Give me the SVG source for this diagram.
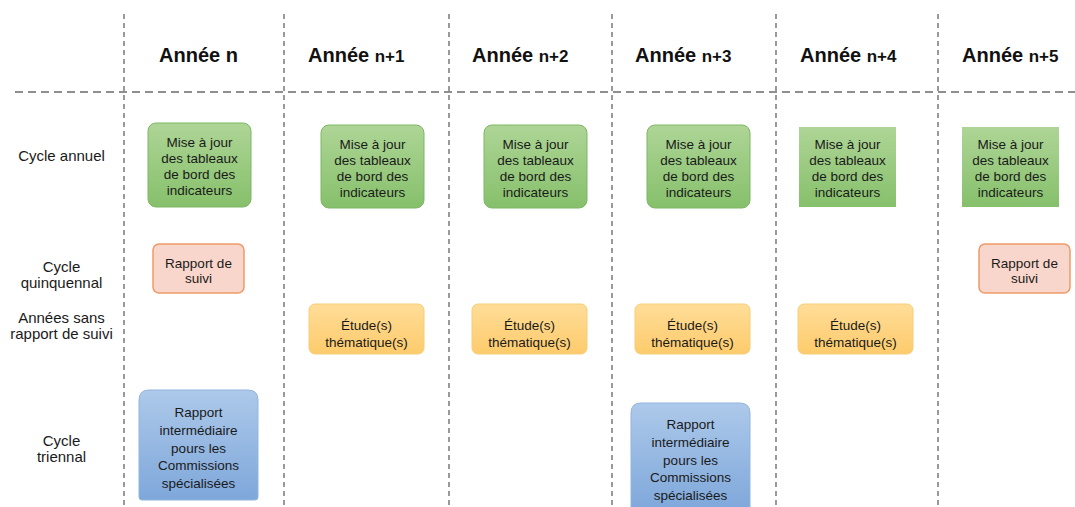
<svg xmlns="http://www.w3.org/2000/svg" width="1075" height="507" viewBox="0 0 1075 507">
<defs>
<linearGradient id="gGreen" x1="0" y1="0" x2="0" y2="1"><stop offset="0" stop-color="#AED596"/><stop offset="1" stop-color="#86C06B"/></linearGradient>
<linearGradient id="gGold" x1="0" y1="0" x2="0" y2="1"><stop offset="0" stop-color="#FFDD98"/><stop offset="1" stop-color="#FDCB6C"/></linearGradient>
<linearGradient id="gBlue" x1="0" y1="0" x2="0" y2="1"><stop offset="0" stop-color="#ADC9EA"/><stop offset="1" stop-color="#7EA7DA"/></linearGradient>
</defs>
<style>
.vline{stroke:#8f8f8f;stroke-width:1.8;stroke-dasharray:5 4;fill:none}
.hline{stroke:#8f8f8f;stroke-width:1.8;stroke-dasharray:8 5;fill:none}
.head{font-family:"Liberation Sans",Arial,sans-serif;font-weight:bold;font-size:20px;fill:#111}
.head .s{font-size:17px}
.lab{font-family:"Liberation Sans",Arial,sans-serif;font-size:15px;fill:#1a1a1a;text-anchor:middle}
.txt{font-family:"Liberation Sans",Arial,sans-serif;font-size:13.5px;fill:#1a1a1a;text-anchor:middle}
.green{fill:url(#gGreen);stroke:#7DB765;stroke-width:1}
.greensq{fill:url(#gGreen);stroke:none}
.pink{fill:#F9D6CB;stroke:#EE9A68;stroke-width:1.5}
.gold{fill:url(#gGold);stroke:#F8CD78;stroke-width:1}
.blue{fill:url(#gBlue);stroke:#93B4DE;stroke-width:1}
</style>
<rect width="1075" height="507" fill="#ffffff"/>
<g id="grid">
<line class="vline" x1="124" y1="14" x2="124" y2="507"/>
<line class="vline" x1="284" y1="14" x2="284" y2="507"/>
<line class="vline" x1="449" y1="14" x2="449" y2="507"/>
<line class="vline" x1="612" y1="14" x2="612" y2="507"/>
<line class="vline" x1="776" y1="14" x2="776" y2="507"/>
<line class="vline" x1="938" y1="14" x2="938" y2="507"/>
<line class="hline" x1="15" y1="92" x2="1075" y2="92"/>
</g>
<g id="headers">
<text class="head" x="159" y="62">Année n</text>
<text class="head" x="308" y="62">Année <tspan class="s">n+1</tspan></text>
<text class="head" x="472" y="62">Année <tspan class="s">n+2</tspan></text>
<text class="head" x="635" y="62">Année <tspan class="s">n+3</tspan></text>
<text class="head" x="800" y="62">Année <tspan class="s">n+4</tspan></text>
<text class="head" x="962" y="62">Année <tspan class="s">n+5</tspan></text>
</g>
<g id="row-labels">
<text class="lab" x="61.5" y="161">Cycle annuel</text>
<text class="lab" x="61.5" y="272">Cycle</text>
<text class="lab" x="61.5" y="288">quinquennal</text>
<text class="lab" x="61.5" y="323">Années sans</text>
<text class="lab" x="61.5" y="339">rapport de suivi</text>
<text class="lab" x="61.5" y="446">Cycle</text>
<text class="lab" x="61.5" y="462">triennal</text>
</g>
<g id="connectors"></g>
<g id="maj-n">
<rect class="green" x="148" y="123" width="103" height="84" rx="8"/>
<text class="txt" x="199.5" y="147">Mise à jour</text>
<text class="txt" x="199.5" y="163">des tableaux</text>
<text class="txt" x="199.5" y="179">de bord des</text>
<text class="txt" x="199.5" y="195">indicateurs</text>
</g>
<g id="maj-n1">
<rect class="green" x="321" y="125" width="103" height="83" rx="8"/>
<text class="txt" x="372.5" y="149">Mise à jour</text>
<text class="txt" x="372.5" y="165">des tableaux</text>
<text class="txt" x="372.5" y="181">de bord des</text>
<text class="txt" x="372.5" y="197">indicateurs</text>
</g>
<g id="maj-n2">
<rect class="green" x="484" y="125" width="103" height="83" rx="8"/>
<text class="txt" x="535.5" y="149">Mise à jour</text>
<text class="txt" x="535.5" y="165">des tableaux</text>
<text class="txt" x="535.5" y="181">de bord des</text>
<text class="txt" x="535.5" y="197">indicateurs</text>
</g>
<g id="maj-n3">
<rect class="green" x="647" y="125" width="103" height="83" rx="8"/>
<text class="txt" x="698.5" y="149">Mise à jour</text>
<text class="txt" x="698.5" y="165">des tableaux</text>
<text class="txt" x="698.5" y="181">de bord des</text>
<text class="txt" x="698.5" y="197">indicateurs</text>
</g>
<g id="maj-n4">
<rect class="greensq" x="799" y="127" width="97" height="80"/>
<text class="txt" x="847.5" y="149">Mise à jour</text>
<text class="txt" x="847.5" y="165">des tableaux</text>
<text class="txt" x="847.5" y="181">de bord des</text>
<text class="txt" x="847.5" y="197">indicateurs</text>
</g>
<g id="maj-n5">
<rect class="greensq" x="962" y="127" width="97" height="80"/>
<text class="txt" x="1010.5" y="149">Mise à jour</text>
<text class="txt" x="1010.5" y="165">des tableaux</text>
<text class="txt" x="1010.5" y="181">de bord des</text>
<text class="txt" x="1010.5" y="197">indicateurs</text>
</g>
<g id="suivi-n">
<rect class="pink" x="153" y="244" width="91" height="49" rx="6"/>
<text class="txt" x="198.5" y="268">Rapport de</text>
<text class="txt" x="198.5" y="283">suivi</text>
</g>
<g id="suivi-n5">
<rect class="pink" x="979" y="244" width="91" height="49" rx="6"/>
<text class="txt" x="1024.5" y="268">Rapport de</text>
<text class="txt" x="1024.5" y="283">suivi</text>
</g>
<g id="etude-n1">
<rect class="gold" x="309" y="304" width="115" height="50" rx="6"/>
<text class="txt" x="366.5" y="330">Étude(s)</text>
<text class="txt" x="366.5" y="347">thématique(s)</text>
</g>
<g id="etude-n2">
<rect class="gold" x="472" y="304" width="115" height="50" rx="6"/>
<text class="txt" x="529.5" y="330">Étude(s)</text>
<text class="txt" x="529.5" y="347">thématique(s)</text>
</g>
<g id="etude-n3">
<rect class="gold" x="635" y="304" width="115" height="50" rx="6"/>
<text class="txt" x="692.5" y="330">Étude(s)</text>
<text class="txt" x="692.5" y="347">thématique(s)</text>
</g>
<g id="etude-n4">
<rect class="gold" x="798" y="304" width="115" height="50" rx="6"/>
<text class="txt" x="855.5" y="330">Étude(s)</text>
<text class="txt" x="855.5" y="347">thématique(s)</text>
</g>
<g id="inter-n">
<path class="blue" d="M149,390 H248 Q258,390 258,400 V497 Q258,500 255,500 H142 Q139,500 139,497 V400 Q139,390 149,390 Z"/>
<text class="txt" x="198.5" y="417">Rapport</text>
<text class="txt" x="198.5" y="435">intermédiaire</text>
<text class="txt" x="198.5" y="453">pours les</text>
<text class="txt" x="198.5" y="470">Commissions</text>
<text class="txt" x="198.5" y="488">spécialisées</text>
</g>
<g id="inter-n3">
<path class="blue" d="M641,403 H740 Q750,403 750,413 V512 H631 V413 Q631,403 641,403 Z"/>
<text class="txt" x="690.5" y="429">Rapport</text>
<text class="txt" x="690.5" y="447">intermédiaire</text>
<text class="txt" x="690.5" y="465">pours les</text>
<text class="txt" x="690.5" y="482">Commissions</text>
<text class="txt" x="690.5" y="500">spécialisées</text>
</g>
</svg>
